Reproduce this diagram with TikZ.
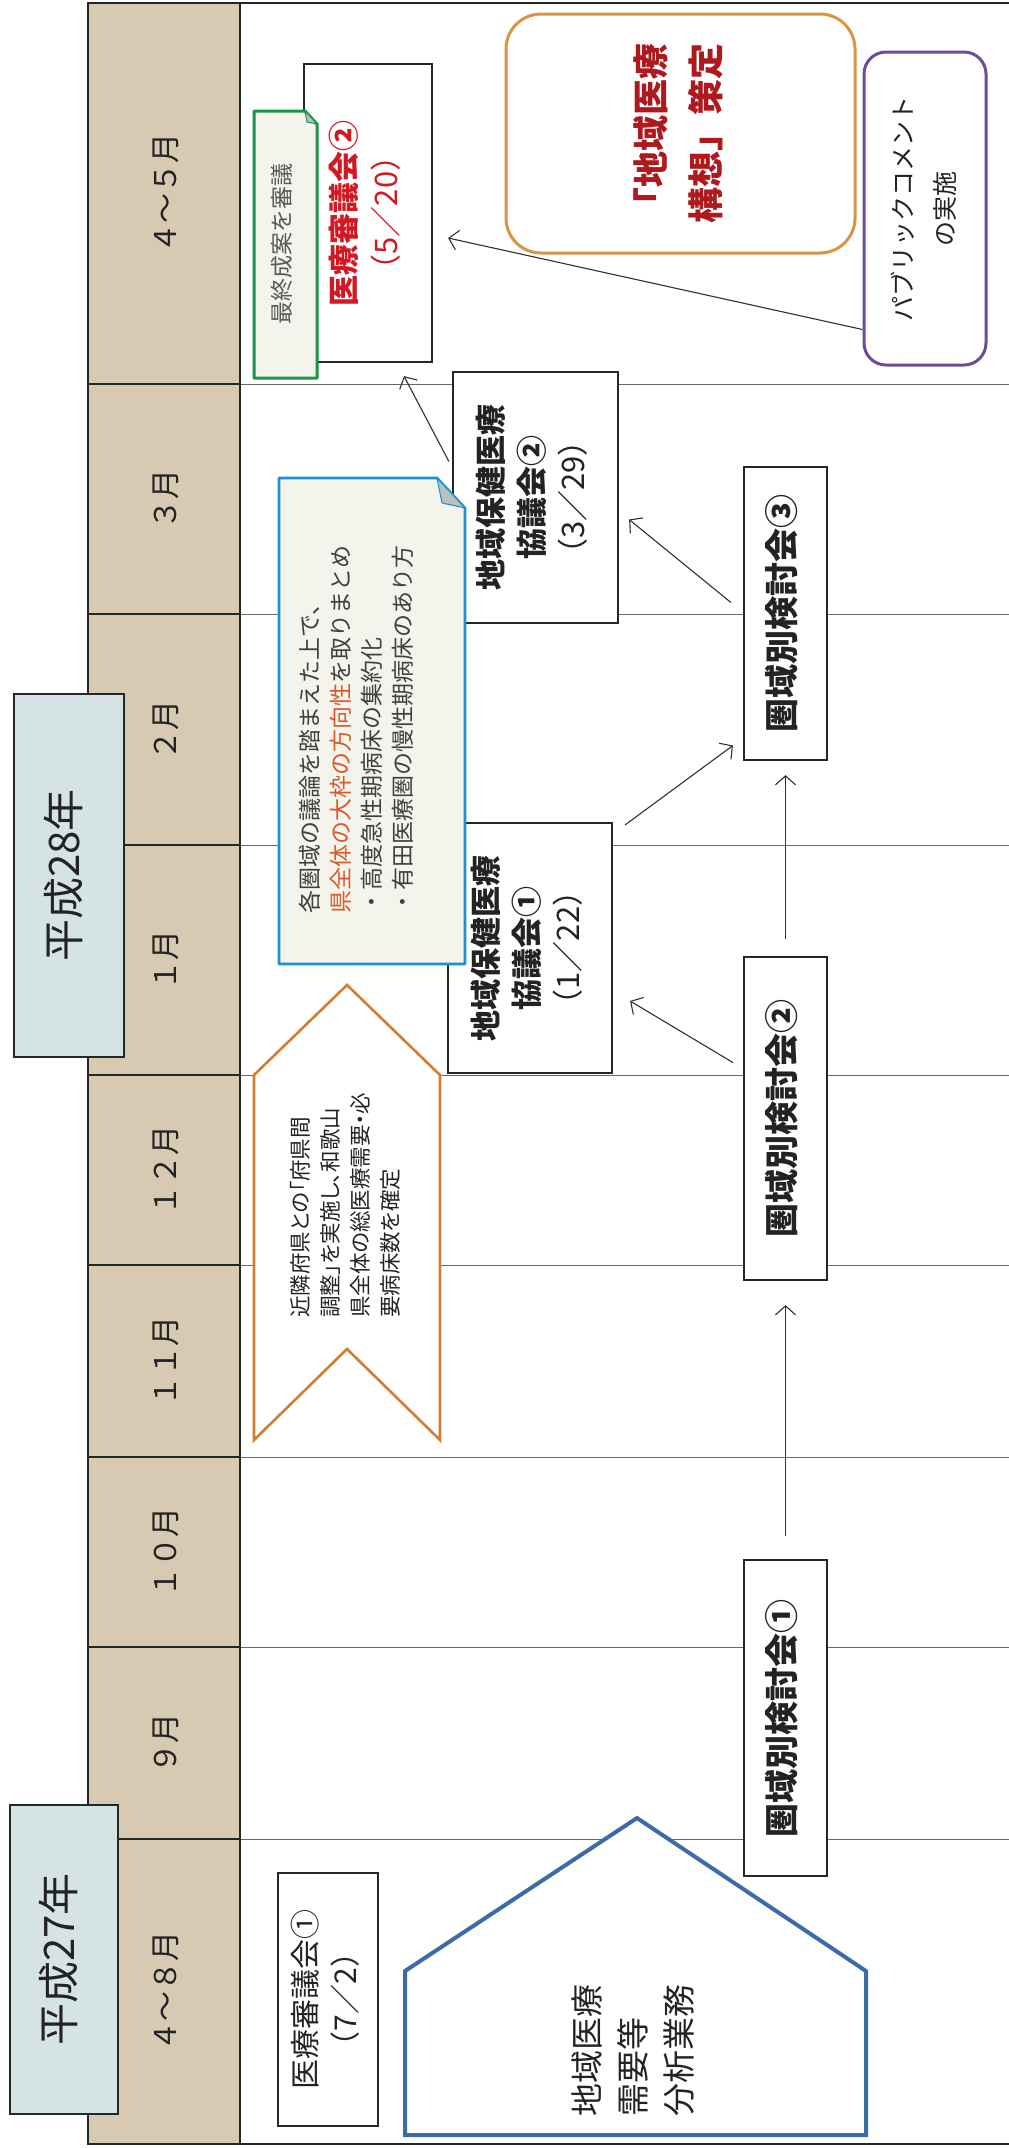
\documentclass[tikz,border=0pt]{standalone}
\usepackage{fontspec}
\usepackage{graphicx}
\setmainfont{Noto Sans CJK JP}
\newfontfamily\jpprop{Noto Sans CJK JP}[RawFeature=+palt]
\usetikzlibrary{arrows.meta,calc}
\definecolor{colLine}{RGB}{34,40,36}
\definecolor{colTan}{RGB}{216,201,179}
\definecolor{colYear}{RGB}{214,227,229}
\definecolor{colGrid}{RGB}{100,105,100}
\definecolor{colArrow}{RGB}{45,50,48}
\definecolor{colGreen}{RGB}{22,150,70}
\definecolor{colOrange}{RGB}{214,150,70}
\definecolor{colPurple}{RGB}{108,76,150}
\definecolor{colBlue}{RGB}{30,145,210}
\definecolor{colChev}{RGB}{212,125,50}
\definecolor{colPent}{RGB}{60,108,165}
\definecolor{colRed}{RGB}{210,25,35}
\definecolor{colDRed}{RGB}{175,25,30}
\definecolor{colOrT}{RGB}{215,90,45}
\definecolor{colNote}{RGB}{244,243,236}
\definecolor{colFold}{RGB}{185,192,190}
\definecolor{colText}{RGB}{35,35,35}
\newcommand{\vtx}[2][c]{\rotatebox{90}{\begin{tabular}{@{}#1@{}}#2\end{tabular}}}
\begin{document}
\begin{tikzpicture}[x=1pt,y=-1pt,
  box/.style={draw=colLine, line width=2.2pt, fill=white, inner sep=0pt, text=colText},
  yearbox/.style={draw=colLine, line width=2.2pt, fill=colYear, inner sep=0pt, text=colText,
    font=\fontsize{42}{50}\selectfont},
  month/.style={inner sep=0pt, text=colText, font=\fontsize{30}{36}\selectfont},
  kbox/.style={box, minimum width=83pt, font=\fontsize{34}{40}\selectfont\bfseries},
  cbox/.style={box, minimum width=165pt, minimum height=251pt, font=\fontsize{31}{41}\selectfont},
  txt/.style={inner sep=0pt, text=colText},
  arr/.style={draw=colArrow, line width=1.1pt, -{Straight Barb[length=9pt,width=20pt]}},
  gridline/.style={draw=colGrid, line width=1pt},
  colline/.style={draw=colLine, line width=1.8pt}
]
\useasboundingbox (0,0) rectangle (1009,2148);
\fill[white] (0,0) rectangle (1009,2148);
% month column
\fill[colTan] (88,3) rectangle (240,2144);
\foreach \yy in {384,614,845,1075,1265,1457,1647,1839}{
  \draw[gridline] (240,\yy) -- (1009,\yy);
  \draw[colline] (88,\yy) -- (240,\yy);
}
\draw[colLine, line width=2.2pt] (1009,3) -- (88,3) -- (88,2144) -- (1009,2144);
\draw[colLine, line width=2pt] (240,3) -- (240,2144);
% month labels
\node[month] (m45) at (169,193) {\vtx{４～５月}};
\node[month] (m3) at (169,499) {\vtx{３月}};
\node[month] (m2) at (169,730) {\vtx{２月}};
\node[month] (m1) at (169,960) {\vtx{１月}};
\node[month] (m12) at (169,1170) {\vtx{１２月}};
\node[month] (m11) at (169,1361) {\vtx{１１月}};
\node[month] (m10) at (169,1552) {\vtx{１０月}};
\node[month] (m9) at (169,1743) {\vtx{９月}};
\node[month] (m48) at (169,1991) {\vtx{４～８月}};
% year boxes
\node[yearbox, minimum width=110pt, minimum height=363pt] (y28) at (69,875.5) {\vtx{平成28年}};
\node[yearbox, minimum width=108pt, minimum height=309pt] (y27) at (64,1959.5) {\vtx{平成27年}};
% top area
\node[box, minimum width=128pt, minimum height=298pt, text=colRed,
  font=\fontsize{31}{42}\selectfont] (s2) at (368,213) {\vtx{\textbf{医療審議会②}\\（5／20）}};
\draw[draw=colGreen, line width=3pt, fill=colNote, line join=round]
  (254,111) -- (305,111) -- (317,124) -- (317,378) -- (254,378) -- cycle;
\filldraw[fill=colFold, draw=colGreen, line width=1pt] (305,111) -- (307,122) -- (317,124) -- cycle;
\node[txt, text=black!65, font=\fontsize{23}{28}\selectfont] (gn) at (285,244) {\vtx{最終成案を審議}};
\node[draw=colOrange, line width=3pt, rounded corners=35pt, fill=white, inner sep=0pt,
  minimum width=349pt, minimum height=239pt, text=colDRed,
  font=\fontsize{36}{55}\selectfont\bfseries] (plan) at (680.5,133.5) {\vtx{「地域医療\\構想」策定}};
\node[draw=colPurple, line width=3pt, rounded corners=22pt, fill=white, inner sep=0pt,
  minimum width=122pt, minimum height=313pt, text=colText,
  font=\fontsize{25}{42}\selectfont] (pc) at (925,208.5) {\vtx{パブリックコメント\\の実施}};
% council boxes
\node[cbox] (c2) at (535.5,497.5) {\vtx{\textbf{地域保健医療}\\\textbf{協議会②}\\（3／29）}};
\node[cbox, minimum width=164pt, minimum height=250pt] (c1) at (530,948) {\vtx{\textbf{地域保健医療}\\\textbf{協議会①}\\（1／22）}};
% regional meetings
\node[kbox, minimum height=293pt] (k3) at (785.5,613.5) {\vtx{圏域別検討会③}};
\node[kbox, minimum height=323pt] (k2) at (785.5,1118.5) {\vtx{圏域別検討会②}};
\node[kbox, minimum height=316pt] (k1) at (785.5,1718) {\vtx{圏域別検討会①}};
% blue note
\draw[draw=colBlue, line width=2.6pt, fill=colNote, line join=round]
  (279,478) -- (437,478) -- (465,508) -- (465,964) -- (279,964) -- cycle;
\filldraw[fill=colFold, draw=colBlue, line width=1pt] (437,478) -- (442,503) -- (465,508) -- cycle;
\node[txt, anchor=south, text=black!75, font=\fontsize{23}{31}\selectfont] (bn) at (358.5,914)
  {\vtx[l]{各圏域の議論を踏まえた上で、\\\textcolor{colOrT}{県全体の大枠の方向性}を取りまとめ\\・高度急性期病床の集約化\\・有田医療圏の慢性期病床のあり方}};
% chevron
\draw[draw=colChev, line width=2.6pt, fill=white, line join=miter]
  (254,1075) -- (347,985) -- (440,1075) -- (440,1440) -- (347,1349) -- (254,1440) -- cycle;
\node[txt, anchor=south, font=\jpprop\fontsize{21.5}{30}\selectfont] (ch) at (347.5,1318)
  {\vtx[l]{近隣府県との「府県間\\調整」を実施し、和歌山\\県全体の総医療需要・必\\要病床数を確定}};
% bottom
\node[box, minimum width=100pt, minimum height=253pt, font=\fontsize{30}{40}\selectfont] (s1) at (328,1999.5) {\vtx{医療審議会①\\（7／2）}};
\draw[draw=colPent, line width=4pt, fill=white, line join=miter]
  (405,1971) -- (637,1818) -- (866,1971) -- (866,2135) -- (405,2135) -- cycle;
\node[txt, anchor=south, font=\fontsize{33}{46}\selectfont] (pe) at (636,2117)
  {\vtx[l]{地域医療\\需要等\\分析業務}};
% arrows
\draw[arr, shorten <=23pt, shorten >=24pt] (k1.north) -- (k2.south);
\draw[arr, shorten <=17pt, shorten >=14pt] (k2.north) -- (k3.south);
\draw[arr] ($(k2.west)+(-10,-56)$) -- ($(c1.east)+(17,53)$);
\draw[arr] ($(c1.north east)+(12,3)$) -- ($(k3.west)+(-10,132)$);
\draw[arr] ($(k3.west)+(-12,-11)$) -- ($(c2.east)+(10,22)$);
\draw[arr] ($(c2.west)+(-3,-36)$) -- ($(s2.south)+(36,13)$);
\draw[arr] ($(pc.west)+(0,121)$) -- ($(s2.east)+(15,25)$);
\end{tikzpicture}
\end{document}
